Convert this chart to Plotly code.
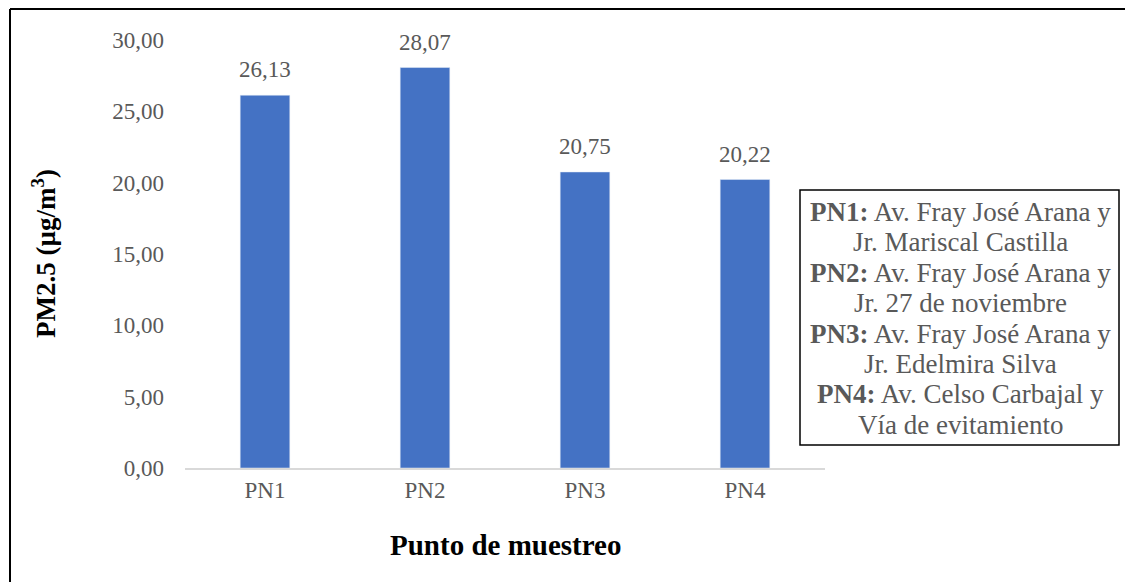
import plotly.graph_objects as go

categories = ["PN1", "PN2", "PN3", "PN4"]
values = [26.13, 28.07, 20.75, 20.22]
y_ticks = [0, 5, 10, 15, 20, 25, 30]
legend_lines = [
    "<b>PN1:</b> Av. Fray José Arana y",
    "Jr. Mariscal Castilla",
    "<b>PN2:</b> Av. Fray José Arana y",
    "Jr. 27 de noviembre",
    "<b>PN3:</b> Av. Fray José Arana y",
    "Jr. Edelmira Silva",
    "<b>PN4:</b> Av. Celso Carbajal y",
    "Vía de evitamiento",
]

FONT = "Liberation Serif"
GREY = "#595959"

W, H = 1125, 582
L, R, T, B = 185, 300, 40, 114
pw, ph = W - L - R, H - T - B

def px(x):
    return (x - L) / pw

def py(y):
    return (H - B - y) / ph

fig = go.Figure(go.Bar(
    x=categories, y=values,
    marker_color="#4472C4",
    width=0.31, hoverinfo="skip",
))

shapes = [
    dict(type="line", xref="paper", yref="paper", x0=px(10), x1=px(1130), y0=py(9), y1=py(9),
         line=dict(color="black", width=2)),
    dict(type="line", xref="paper", yref="paper", x0=px(10), x1=px(10), y0=py(9), y1=py(590),
         line=dict(color="black", width=2)),
    dict(type="rect", xref="paper", yref="paper", x0=px(800), x1=px(1119), y0=py(190), y1=py(445),
         line=dict(color="black", width=1.5), fillcolor="white"),
]

annotations = []
# data labels, placed from the data values
for c, v in zip(categories, values):
    annotations.append(dict(
        text=f"{v:.2f}".replace(".", ","), x=c, y=v, xref="x", yref="y",
        xanchor="center", yanchor="bottom", yshift=11, showarrow=False,
        font=dict(family=FONT, size=23, color=GREY),
    ))

for i, line in enumerate(legend_lines):
    annotations.append(dict(
        text=line, xref="paper", yref="paper", x=px(960), y=py(212 + i * 30.4),
        xanchor="center", yanchor="middle", showarrow=False,
        font=dict(family=FONT, size=27, color=GREY),
    ))

annotations.append(dict(
    text="<b>PM2.5 (µg/m<sup>3</sup>)</b>", xref="paper", yref="paper",
    x=px(44), y=py(254), xanchor="center", yanchor="middle", textangle=-90,
    showarrow=False, font=dict(family=FONT, size=27, color="black"),
))
annotations.append(dict(
    text="<b>Punto de muestreo</b>", xref="paper", yref="paper",
    x=px(505), y=py(545), xanchor="center", yanchor="middle",
    showarrow=False, font=dict(family=FONT, size=29, color="black"),
))

fig.update_layout(
    width=W, height=H,
    margin=dict(l=L, r=R, t=T, b=B),
    paper_bgcolor="white", plot_bgcolor="white",
    separators=",.",
    showlegend=False,
    shapes=shapes,
    annotations=annotations,
    font=dict(family=FONT, color=GREY),
)
fig.update_xaxes(
    showgrid=False, showline=True, linecolor="#D9D9D9", linewidth=1.5,
    tickfont=dict(family=FONT, size=23, color=GREY), ticks="", ticklabelstandoff=1,
)
fig.update_yaxes(
    range=[0, 30], tickvals=y_ticks, tickformat=".2f",
    showgrid=False, showline=False, zeroline=False,
    tickfont=dict(family=FONT, size=23, color=GREY), ticks="", ticklabelstandoff=20,
)

fig.write_html("out.html", config={"displayModeBar": False},
               post_script="document.body.style.margin='0';")
